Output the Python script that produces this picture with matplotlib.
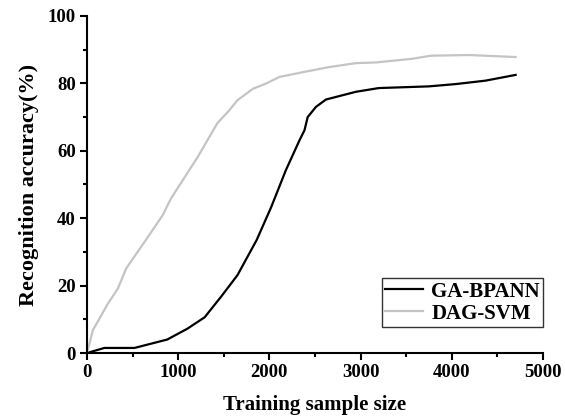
"""Recognition accuracy vs training sample size."""

import matplotlib

matplotlib.use("Agg")
from matplotlib import pyplot as plt
from matplotlib.ticker import MultipleLocator

# GA-BPANN (black curve)
ga_x = [0, 190, 520, 880, 1100, 1290, 1470, 1650, 1860, 2020, 2180, 2330,
        2385, 2420, 2510, 2620, 2950, 3200, 3750, 4050, 4370, 4700]
ga_y = [0, 1.5, 1.5, 4.0, 7.2, 10.6, 16.7, 23.1, 33.5, 43.3, 54.2, 63.1,
        66.1, 70.0, 73.0, 75.2, 77.5, 78.6, 79.1, 79.8, 80.8, 82.5]

# DAG-SVM (light grey curve)
dag_x = [0, 65, 230, 340, 430, 670, 830, 920, 1215, 1430, 1560, 1650, 1820,
         1960, 2110, 2365, 2650, 2950, 3170, 3570, 3770, 4190, 4700]
dag_y = [0, 6.8, 14.7, 19.2, 25.1, 34.5, 40.9, 45.8, 58.2, 68.2, 72.0, 75.0,
         78.4, 79.9, 81.9, 83.3, 84.8, 86.0, 86.2, 87.3, 88.2, 88.4, 87.8]

plt.rcParams["font.family"] = ["Liberation Serif", "DejaVu Serif"]
plt.rcParams["font.weight"] = "bold"

fig = plt.figure(figsize=(5.65, 4.19), dpi=100)
ax = fig.add_axes([0.154, 0.1575, 0.807, 0.8045])

ax.plot(ga_x, ga_y, color="black", lw=1.6, label="GA-BPANN")
ax.plot(dag_x, dag_y, color="#c4c4c4", lw=1.6, label="DAG-SVM")

ax.set_xlim(0, 5000)
ax.set_ylim(0, 100)
ax.xaxis.set_major_locator(MultipleLocator(1000))
ax.xaxis.set_minor_locator(MultipleLocator(500))
ax.yaxis.set_major_locator(MultipleLocator(20))
ax.yaxis.set_minor_locator(MultipleLocator(10))

for side in ["top", "right"]:
    ax.spines[side].set_visible(False)
for side in ["left", "bottom"]:
    ax.spines[side].set_linewidth(1.5)

ax.tick_params(which="major", direction="out", length=5, width=1.5,
               labelsize=13.5, pad=3)
ax.tick_params(which="minor", direction="out", length=3, width=1.5)

ax.set_xlabel("Training sample size", fontsize=15, fontweight="bold",
              labelpad=10)
ax.set_ylabel("Recognition accuracy(%)", fontsize=16, fontweight="bold",
              labelpad=6)

leg = ax.legend(loc="lower right", bbox_to_anchor=(1.0, 0.078),
                borderaxespad=0, fancybox=False, framealpha=1,
                edgecolor="#333333", prop={"size": 15, "weight": "bold"},
                handlelength=1.8, handletextpad=0.4, labelspacing=0.1,
                borderpad=0.15)
leg.get_frame().set_linewidth(1.0)

fig.canvas.draw()
for lab in ax.get_xticklabels() + ax.get_yticklabels():
    lab.set_fontweight("bold")

fig.savefig("out.png", dpi=100)
